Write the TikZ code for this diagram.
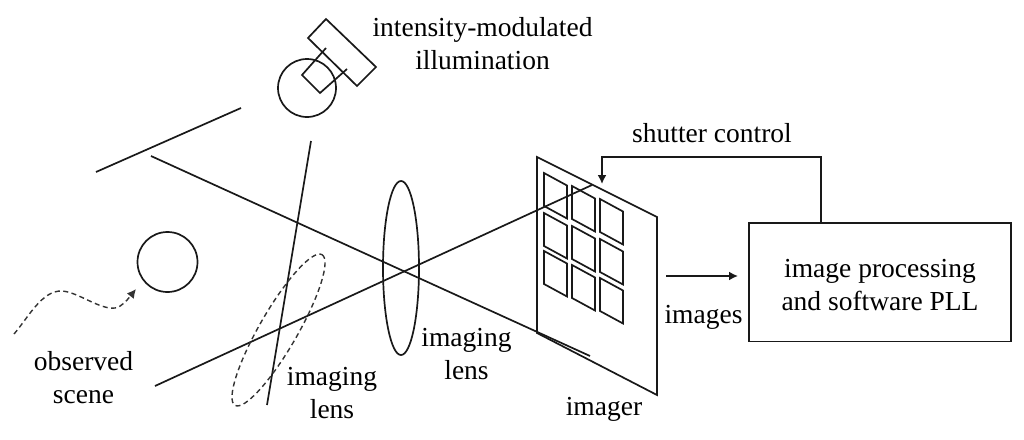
\documentclass[tikz,border=0pt]{standalone}
\usepackage{fontspec}
\setmainfont{Liberation Serif}
\usetikzlibrary{arrows.meta}
\tikzset{
  ln/.style={draw=black!90,line width=1.7pt},
  cell/.style={draw=black!90,line width=1.7pt},
  dsh/.style={draw=black!80,line width=1.4pt,dash pattern=on 5pt off 3.5pt},
  lbl/.style={font=\fontsize{27.5}{33}\selectfont,align=center,inner sep=0pt,text=black,anchor=base},
  arr/.style={-{Latex[length=9pt,width=9pt]}},
  arrd/.style={-{Latex[length=9pt,width=9pt]}}
}
\begin{document}
\begin{tikzpicture}[x=1pt,y=-1pt]
\useasboundingbox (0,0) rectangle (1024,439);
% lamp
\draw[ln] (326,19) -- (376,67) -- (357,86) -- (308,38) -- cycle;
\draw[ln] (326,48) -- (302,75) -- (320,93) -- (347,69);
\draw[ln] (307,88) circle[radius=29];
% mirror and splitter
\coordinate (m1) at (96,172); \coordinate (m2) at (241,108);
\draw[ln] (m1) -- (m2);
\coordinate (s1) at (311,141); \coordinate (s2) at (267,405);
\draw[ln] (s1) -- (s2);
% rays
\coordinate (r1a) at (151,156); \coordinate (r1b) at (590,356);
\coordinate (r2a) at (155,386); \coordinate (r2b) at (592,185);
\draw[ln] (r1a) -- (r1b);
\draw[ln] (r2a) -- (r2b);
% lenses
\draw[ln] (401,268) ellipse[x radius=18,y radius=87];
\draw[dsh] (278.5,330) ellipse[x radius=87,y radius=19,rotate=60];
% scene
\draw[ln] (167.5,262) circle[radius=30];
\coordinate (c0) at (14,334); \coordinate (c1) at (136,289);
\draw[dsh,arrd] (c0) .. controls (28,318) and (42,290) .. (62,291)
   .. controls (78,292) and (100,310) .. (115,308) .. controls (122,307) and (128,299) .. (c1);
% imager
\draw[ln] (537,157) -- (657,217) -- (657,395) -- (537,333) -- cycle;
\foreach \x/\y in {544/173,544/213,544/251, 572/186,572/226,572/265, 600/199,600/239,600/278}{
  \draw[cell] (\x,\y) -- ++(23,12.5) -- ++(0,33) -- ++(-23,-12.5) -- cycle;
}
% box
\node[draw=black!90,line width=1.7pt,minimum width=262pt,minimum height=118.5pt,anchor=north west,inner sep=0pt] (box) at (748,222) {};
\node[lbl] (t0) at (880,310) {image processing\\and software PLL};
\coordinate (fb) at (821,222);
\coordinate (ct) at (602,184);
\draw[ln,arr] (fb) -- (821,157) -- (602,157) -- (ct);
\coordinate (ia) at (666,276); \coordinate (ib) at (738,276);
\draw[ln,arr] (ia) -- (ib);
% labels
\node[lbl] (t1) at (482.5,69) {intensity-modulated\\illumination};
\node[lbl] (t2) at (712,142) {shutter control};
\node[lbl] (t3) at (703.5,323) {images};
\node[lbl] (t4) at (83.5,403) {observed\\scene};
\node[lbl] (t5) at (332,418.5) {imaging\\lens};
\node[lbl] (t6) at (466.5,379.5) {imaging\\lens};
\node[lbl] (t7) at (604,415) {imager};
\end{tikzpicture}
\end{document}
